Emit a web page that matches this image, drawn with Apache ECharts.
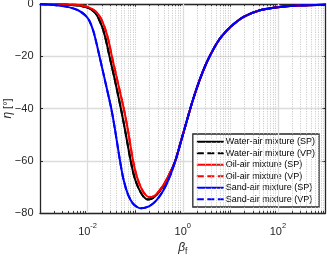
<!DOCTYPE html>
<html><head><meta charset="utf-8">
<script src="https://cdn.jsdelivr.net/npm/echarts@6/dist/echarts.min.js"></script>
<style>html,body{margin:0;padding:0;background:#fff}#c{width:327px;height:258px}</style>
</head><body><div id="c"></div>
<script>
// ---- data (beta_f, eta in degrees) ----
const sandBeta = [0.001, 0.001995, 0.003981, 0.00631, 0.008913, 0.01096, 0.01318, 0.01514, 0.01778, 0.02239, 0.03162, 0.03802, 0.04677, 0.05623, 0.07079, 0.08913, 0.1122, 0.1349, 0.1995, 0.2818, 0.3981, 0.5623, 0.7943, 1.122, 1.585, 2.239, 3.162, 4.467, 6.31, 10, 19.05, 43.65, 100, 251.2, 1000];
const sandEta  = [-0.1, -0.4, -1.2, -2.4, -4.3, -6.5, -10.3, -14.5, -20, -28, -40.2, -48.5, -58.8, -66.8, -73, -76.3, -77.8, -78.2, -77.35, -75.1, -71.1, -65.0, -56.7, -47.0, -37.5, -29.3, -22.5, -17.1, -12.8, -8.8, -4.9, -2.3, -1.2, -0.6, -0.3];

const waterBeta = [0.001, 0.003162, 0.00631, 0.01, 0.014454, 0.017783, 0.02138, 0.024547, 0.02884, 0.036308, 0.050119, 0.06166, 0.079433, 0.095499, 0.11749, 0.147911, 0.186209, 0.239883, 0.316228, 0.416869, 0.549541, 0.707946, 0.891251, 1.122, 1.585, 2.239, 3.162, 4.467, 6.31, 10, 19.05, 43.65, 100, 251.2, 1000];
const waterEta  = [0, -0.15, -0.6, -1.4, -3.4, -6.3, -10, -14.2, -20, -28, -40, -48.5, -59.5, -66, -70.5, -73.6, -74.8, -74.2, -72.0, -68.8, -64.5, -59.8, -53.3, -47.0, -37.5, -29.3, -22.5, -17.1, -12.8, -8.8, -4.9, -2.3, -1.2, -0.6, -0.3];

const oilBeta = [0.001, 0.003162, 0.00631, 0.01, 0.014454, 0.019055, 0.023442, 0.027542, 0.032359, 0.040738, 0.057544, 0.070795, 0.089125, 0.107152, 0.131826, 0.162181, 0.199526, 0.251189, 0.316228, 0.416869, 0.549541, 0.707946, 0.891251, 1.122, 1.585, 2.239, 3.162, 4.467, 6.31, 10, 19.05, 43.65, 100, 251.2, 1000];
const oilEta  = [0, -0.1, -0.4, -1.1, -2.7, -5.5, -9.5, -14, -20, -28, -40, -48.5, -59.5, -65.8, -70.2, -72.9, -74.0, -73.5, -71.6, -68.5, -64.3, -59.7, -53.2, -47.0, -37.5, -29.3, -22.5, -17.1, -12.8, -8.8, -4.9, -2.3, -1.2, -0.6, -0.3];

// VP curves coincide with SP curves in the reference
const waterVPEta = waterEta, oilVPEta = oilEta, sandVPEta = sandEta;

const seriesNames = ['Water-air mixture (SP)', 'Water-air mixture (VP)', 'Oil-air mixture (SP)', 'Oil-air mixture (VP)', 'Sand-air mixture (SP)', 'Sand-air mixture (VP)'];
const yTicks = [0, -20, -40, -60, -80];
const xLabelExps = [-2, 0, 2];
const xMin = 0.001, xMax = 1000;

const FONT = '"Liberation Sans", Arial, Helvetica, sans-serif';
const AX = '#262626';

function pairs(xs, ys) { return xs.map((x, i) => [x, ys[i]]); }

// grid lines / minor ticks (decorations)
const gridLines = [], tickSegs = [];
for (let e = -3; e < 3; e++) {
  for (let m = 1; m < 10; m++) {
    const v = +(m * Math.pow(10, e)).toPrecision(6);
    if (v <= xMin) continue;
    const major = (m === 1 && xLabelExps.indexOf(e) >= 0);
    gridLines.push({ xAxis: v, lineStyle: major ? { color: '#dcdcdc', width: 1.3, type: 'solid' } : { color: '#c2c2c2', width: 0.8, type: [1.2, 1.2] } });
    if (!major) {
      tickSegs.push([{ coord: [v, -80], lineStyle: { color: AX, width: 0.9, type: 'solid' } }, { coord: [v, -79.2] }]);
      tickSegs.push([{ coord: [v, 0], lineStyle: { color: AX, width: 0.9, type: 'solid' } }, { coord: [v, -0.8] }]);
    }
  }
}

const colors = ['#000000', '#000000', '#ff0000', '#ff0000', '#0000ff', '#0000ff'];
const datas = [pairs(waterBeta, waterEta), pairs(waterBeta, waterVPEta), pairs(oilBeta, oilEta), pairs(oilBeta, oilVPEta), pairs(sandBeta, sandEta), pairs(sandBeta, sandVPEta)];

const series = seriesNames.map((n, i) => ({
  name: n, type: 'line', xAxisIndex: 0, yAxisIndex: 0, data: datas[i], smooth: 0.25,
  symbol: 'none', z: 5 + i, silent: true,
  lineStyle: { color: colors[i], width: 2, type: (i % 2 === 1) ? [7, 3.5] : 'solid' },
  itemStyle: { color: colors[i] }
}));
series.unshift({
  name: '_grid', type: 'line', xAxisIndex: 0, yAxisIndex: 0, data: [], z: 1, silent: true,
  markLine: { silent: true, symbol: ['none', 'none'], label: { show: false }, animation: false, data: gridLines.concat(tickSegs) }
});

const chart = echarts.init(document.getElementById('c'), null, { renderer: 'canvas' });
chart.setOption({
  animation: false,
  backgroundColor: '#fff',
  grid: { left: 40, right: 1.5, top: 4, bottom: 45, containLabel: false, outerBoundsMode: 'none' },
  xAxis: [{
    type: 'log', logBase: 10, min: xMin, max: xMax, position: 'bottom',
    name: '{i|β}{s|f}', nameLocation: 'middle', nameGap: 27, nameMoveOverlap: false,
    nameTextStyle: { fontFamily: FONT, color: AX, rich: { i: { fontSize: 12, fontStyle: 'italic', fontFamily: FONT, color: AX }, s: { fontSize: 8.5, fontFamily: FONT, color: AX, padding: [7, 0, 0, 0] } } },
    axisLine: { show: true, onZero: false, lineStyle: { color: AX, width: 1.3 } },
    axisTick: { show: true, inside: true, length: 3, lineStyle: { color: AX, width: 1 } },
    axisLabel: {
      margin: 7, fontFamily: FONT, color: AX,
      formatter: function (v) {
        const e = Math.round(Math.log10(v));
        if (xLabelExps.indexOf(e) < 0) return '';
        return '{b|10}{s|' + e + '}';
      },
      rich: { b: { fontSize: 11, fontFamily: FONT, color: AX, padding: [6, 0, 0, 0] }, s: { fontSize: 7.5, fontFamily: FONT, color: AX, padding: [0, 0, 6, 0] } }
    },
    splitLine: { show: false }
  }, {
    type: 'log', logBase: 10, min: xMin, max: xMax, position: 'top',
    axisLine: { show: true, lineStyle: { color: AX, width: 1.3 } },
    axisTick: { show: true, inside: true, length: 3, lineStyle: { color: AX, width: 1 } },
    axisLabel: { show: false }, splitLine: { show: false }
  }],
  yAxis: [{
    type: 'value', min: -80, max: 0, interval: 20, position: 'left',
    name: '{i|η} [°]', nameLocation: 'middle', nameGap: 26, nameRotate: 90, nameMoveOverlap: false,
    nameTextStyle: { fontFamily: FONT, color: AX, fontSize: 11, rich: { i: { fontSize: 12, fontStyle: 'italic', fontFamily: FONT, color: AX } } },
    axisLine: { show: true, onZero: false, lineStyle: { color: AX, width: 1.3 } },
    axisTick: { show: true, inside: true, length: 3, lineStyle: { color: AX, width: 1 } },
    axisLabel: { margin: 6.5, fontSize: 11, fontFamily: FONT, color: AX, formatter: v => (v < 0 ? '\u2212' + Math.abs(v) : String(v)) },
    splitLine: { show: true, lineStyle: { color: '#dcdcdc', width: 1.3 } }
  }, {
    type: 'value', min: -80, max: 0, interval: 20, position: 'right',
    axisLine: { show: true, onZero: false, lineStyle: { color: AX, width: 1.3 } },
    axisTick: { show: true, inside: true, length: 3, lineStyle: { color: AX, width: 1 } },
    axisLabel: { show: false }, splitLine: { show: false }
  }],
  legend: {
    data: seriesNames, orient: 'vertical', right: 8, top: 134,
    backgroundColor: '#fff', borderColor: AX, borderWidth: 1.3, borderRadius: 0,
    padding: [2, 4, 2, 3], itemWidth: 27, itemHeight: 8, itemGap: 0,
    selectedMode: false,
    itemStyle: { opacity: 0 },
    textStyle: { fontFamily: FONT, fontSize: 9, color: '#000', lineHeight: 11.5, padding: [0, 0, 0, -3] }
  },
  series: series
});
</script>
</body></html>
